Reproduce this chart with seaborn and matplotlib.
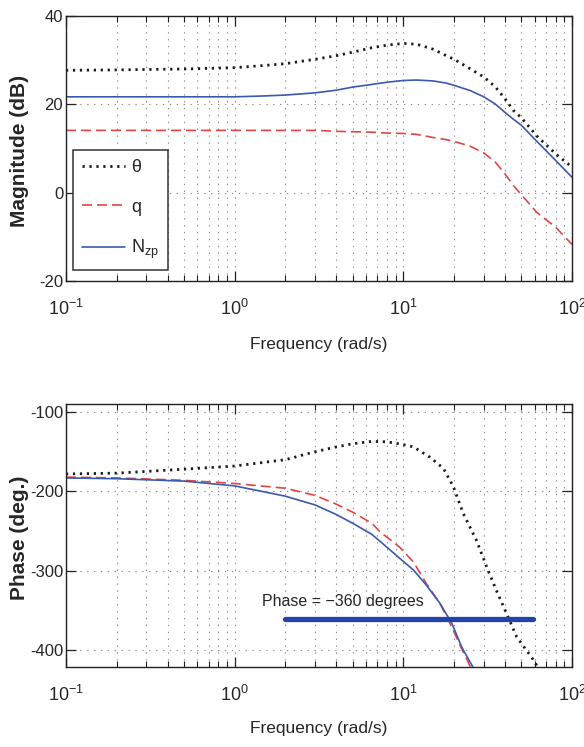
import matplotlib
matplotlib.use("Agg")
import matplotlib.pyplot as plt
from matplotlib.ticker import NullLocator, FixedLocator
import pandas as pd
import seaborn as sns

# datos (magnitud)
mag_freq = [0.1, 0.2, 0.5, 1.0, 1.5, 2.0, 3.0, 4.0, 5.0, 6.5, 8.0, 10.0, 12.0,
            15.0, 18.0, 20.0, 25.0, 30.0, 35.0, 40.0, 45.0, 50.0, 62.0, 80.0, 100.0]
theta_mag = [27.7, 27.8, 28.0, 28.3, 28.8, 29.2, 30.2, 31.0, 31.8, 32.8, 33.4, 33.8, 33.6,
             32.5, 31.0, 30.2, 28.0, 26.2, 24.0, 21.3, 18.6, 17.0, 12.8, 8.8, 5.8]
q_mag = [14.1, 14.1, 14.1, 14.1, 14.1, 14.1, 14.1, 13.9, 13.8, 13.7, 13.5, 13.4, 13.2,
         12.5, 12.0, 11.6, 10.5, 9.0, 7.0, 4.3, 1.6, -0.4, -4.5, -7.8, -11.7]
nzp_mag = [21.7, 21.7, 21.7, 21.7, 21.9, 22.1, 22.6, 23.2, 23.9, 24.5, 25.0, 25.4, 25.5,
           25.3, 24.8, 24.3, 23.1, 21.7, 20.1, 18.2, 16.6, 15.3, 11.6, 7.3, 3.5]

# datos de fase
theta_phase_freq = [0.1, 0.2, 0.5, 1.0, 2.0, 3.0, 4.0, 5.0, 6.5, 8.0, 10.0, 11.5, 14.4,
                    17.3, 19.8, 22.7, 27.2, 31.2, 35.7, 41.0, 47.0, 57.7, 64.0]
theta_phase = [-178, -177, -172, -168, -160, -150, -144, -140, -137, -137.5, -141, -144, -157,
               -171, -194, -228, -262, -295, -325, -354, -383, -409, -424]
q_phase_freq = [0.1, 0.2, 0.5, 1.0, 2.0, 3.0, 4.0, 5.0, 6.5, 7.3, 9.5, 11.5, 13.7,
                16.5, 19.4, 22.2, 25.4, 27.0]
q_phase = [-182, -183, -186, -190, -196, -205, -216, -226, -240, -251, -270, -289, -316,
           -341, -371, -398, -424, -440]
nzp_phase_freq = [0.1, 0.2, 0.5, 1.0, 2.0, 3.0, 4.0, 5.0, 6.5, 7.3, 9.5, 11.5, 13.7,
                  16.5, 19.4, 22.2, 26.0, 27.0]
nzp_phase = [-183, -184, -187, -193, -206, -217, -229, -240, -254, -263, -284, -299, -318,
             -341, -366, -396, -422, -430]

# linea de referencia -360
ref_freq = [2.0, 59.0]
ref_phase = [-360, -360]

series_names = ["\u03b8", "q", r"N$_{\mathrm{zp}}$"]
mag_ticks = [-20, 0, 20, 40]
phase_ticks = [-400, -300, -200, -100]

sns.set_style("white")
plt.rcParams["font.family"] = ["Liberation Sans", "DejaVu Sans"]
plt.rcParams["mathtext.fontset"] = "custom"
plt.rcParams["mathtext.rm"] = "Liberation Sans"
plt.rcParams["mathtext.it"] = "Liberation Sans:italic"
plt.rcParams["axes.unicode_minus"] = False

estilos = {
    "theta": dict(color="#1a1a1a", linewidth=2.0, linestyle=(0, (0.8, 1.7))),
    "q": dict(color="#e04545", linewidth=1.2, linestyle=(0, (6, 3))),
    "nzp": dict(color="#3a5aae", linewidth=1.2, linestyle="-"),
}


def dibujar(ax, freq, vals, clave, label=None):
    df = pd.DataFrame({"f": freq, "v": vals})
    sns.lineplot(data=df, x="f", y="v", ax=ax, estimator=None, label=label,
                 legend=False, **estilos[clave])


def formato(ax, yticks, ylim, ylabel, xlab_y):
    ax.set_xscale("log")
    ax.set_xlim(0.1, 100)
    ax.set_ylim(*ylim)
    ax.yaxis.set_major_locator(FixedLocator(yticks))
    ax.yaxis.set_minor_locator(NullLocator())
    ax.grid(True, which="major", axis="both", color="#8a8a8a", linestyle=(0, (1.2, 5)), linewidth=0.8)
    ax.grid(True, which="minor", axis="x", color="#8a8a8a", linestyle=(0, (1.2, 5)), linewidth=0.8)
    ax.tick_params(which="both", direction="in", top=True, right=True, bottom=True, left=True,
                   color="#222222")
    ax.tick_params(which="major", length=7, width=0.9)
    ax.tick_params(which="minor", length=4, width=0.8)
    ax.tick_params(axis="x", which="major", labelsize=13, pad=13)
    ax.tick_params(axis="y", which="major", labelsize=12, pad=2)
    for s in ax.spines.values():
        s.set_linewidth(1.0)
        s.set_color("#222222")
    ax.set_xlabel("Frequency (rad/s)", fontsize=12.5)
    ax.xaxis.set_label_coords(0.5, xlab_y)
    ax.set_ylabel(ylabel, fontsize=15, fontweight="bold")
    ax.yaxis.set_label_coords(-0.074, 0.49)


fig = plt.figure(figsize=(5.84, 7.47), dpi=100)
ax1 = fig.add_axes([0.113, 0.6238, 0.8664, 0.3548])
ax2 = fig.add_axes([0.113, 0.1071, 0.8664, 0.352])

# magnitud
dibujar(ax1, mag_freq, theta_mag, "theta", series_names[0])
dibujar(ax1, mag_freq, q_mag, "q", series_names[1])
dibujar(ax1, mag_freq, nzp_mag, "nzp", series_names[2])
formato(ax1, mag_ticks, (-20, 40), "Magnitude (dB)", -0.212)

leg = ax1.legend(loc="lower left", bbox_to_anchor=(0.014, 0.04), fontsize=13,
                 frameon=True, fancybox=False, framealpha=1, edgecolor="#333333",
                 handlelength=2.4, handletextpad=0.3, borderpad=0.5, labelspacing=1.25,
                 borderaxespad=0)
leg.get_frame().set_linewidth(1.1)

# fase
dibujar(ax2, theta_phase_freq, theta_phase, "theta")
dibujar(ax2, q_phase_freq, q_phase, "q")
dibujar(ax2, nzp_phase_freq, nzp_phase, "nzp")
sns.lineplot(x=ref_freq, y=ref_phase, ax=ax2, color="#2443a8", linewidth=3.8, estimator=None)
ax2.text(1.46, -338, "Phase = \u2212360 degrees", fontsize=11.5, va="center", ha="left")
formato(ax2, phase_ticks, (-421, -90), "Phase (deg.)", -0.205)

fig.savefig("out.png", dpi=100)
